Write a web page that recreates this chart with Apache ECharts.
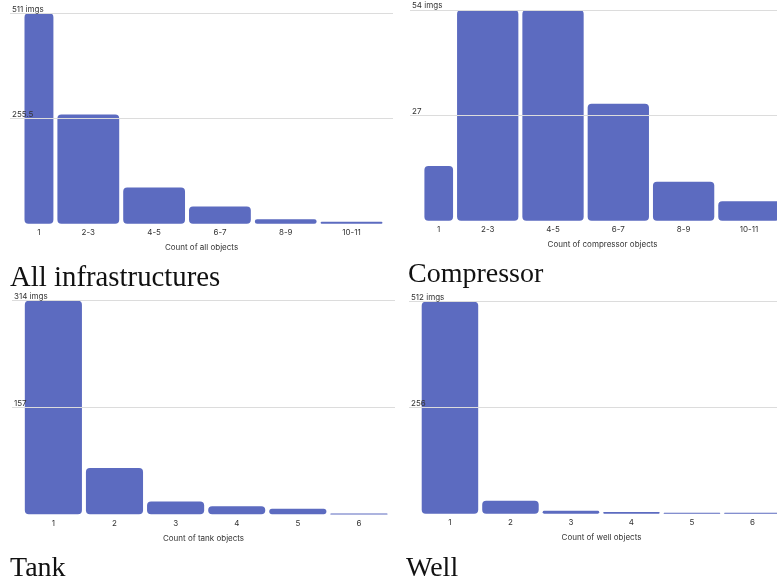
<!DOCTYPE html>
<html>
<head>
<meta charset="utf-8">
<script src="https://cdn.jsdelivr.net/npm/echarts@6/dist/echarts.min.js"></script>
<style>html,body{margin:0;padding:0;background:#fff}#c{width:777px;height:585px}</style>
</head>
<body>
<div id="c"></div>
<script>
// ---- data ----
const allLabels = ['1', '2-3', '4-5', '6-7', '8-9', '10-11'];
const allBinStart = [0.5, 1.5, 3.5, 5.5, 7.5, 9.5];
const allBinEnd = [1.5, 3.5, 5.5, 7.5, 9.5, 11.5];
const allValues = [511, 265, 88, 42, 11, 5];

const compLabels = ['1', '2-3', '4-5', '6-7', '8-9', '10-11'];
const compBinStart = [0.5, 1.5, 3.5, 5.5, 7.5, 9.5];
const compBinEnd = [1.5, 3.5, 5.5, 7.5, 9.5, 11.5];
const compValues = [14, 54, 54, 30, 10, 5];

const tankLabels = ['1', '2', '3', '4', '5', '6'];
const tankBinStart = [0.5, 1.5, 2.5, 3.5, 4.5, 5.5];
const tankBinEnd = [1.5, 2.5, 3.5, 4.5, 5.5, 6.5];
const tankValues = [314, 68, 19, 12, 8, 1];

const wellLabels = ['1', '2', '3', '4', '5', '6'];
const wellBinStart = [0.5, 1.5, 2.5, 3.5, 4.5, 5.5];
const wellBinEnd = [1.5, 2.5, 3.5, 4.5, 5.5, 6.5];
const wellValues = [512, 31, 7, 4, 2, 2];

const yMax = [511, 54, 314, 512];
const axisNames = ['Count of all objects', 'Count of compressor objects', 'Count of tank objects', 'Count of well objects'];
const titles = ['All infrastructures', 'Compressor', 'Tank', 'Well'];

// ---- chart ----
const BAR = '#5c6bc0';
const sans = 'Inter, Roboto, sans-serif';
const panels = [
  {labels: allLabels, s: allBinStart, e: allBinEnd, v: allValues},
  {labels: compLabels, s: compBinStart, e: compBinEnd, v: compValues},
  {labels: tankLabels, s: tankBinStart, e: tankBinEnd, v: tankValues},
  {labels: wellLabels, s: wellBinStart, e: wellBinEnd, v: wellValues}
];
const grids = [
  {left: 10, width: 383, top: 13.3, height: 210.4},
  {left: 410, right: 0, top: 10, height: 210.7},
  {left: 12, width: 383, top: 300.7, height: 213.6},
  {left: 409, right: 0, top: 301.7, height: 212}
];
const xRange = [[0.12, 11.76], [0.12, 11.36], [0.323, 6.59], [0.323, 6.406]];
const namePad = [0, 18, 0, 17];

function renderItem(params, api) {
  const s = api.value(0), e = api.value(1), v = api.value(2);
  const p0 = api.coord([s, v]);
  const p1 = api.coord([e, 0]);
  const w = p1[0] - p0[0] - 4;
  const h = p1[1] - p0[1];
  const r = Math.max(0, Math.min(4, h / 2, w / 2));
  return {
    type: 'rect',
    shape: {x: p0[0] + 2, y: p0[1], width: w, height: Math.max(h, 1), r: r},
    style: {fill: BAR}
  };
}

const option = {
  animation: false,
  backgroundColor: '#fff',
  grid: grids.map(g => Object.assign({containLabel: false}, g)),
  xAxis: panels.map((p, i) => {
    const centers = p.s.map((s, k) => (s + p.e[k]) / 2);
    return {
      type: 'value', gridIndex: i, min: xRange[i][0], max: xRange[i][1],
      axisLine: {show: false}, axisTick: {show: false}, splitLine: {show: false},
      axisLabel: {
        customValues: centers, margin: 5, fontSize: 8, color: '#333', fontFamily: sans,
        formatter: val => {
          const k = centers.findIndex(c => Math.abs(c - val) < 1e-6);
          return k >= 0 ? p.labels[k] : '';
        }
      },
      name: axisNames[i], nameLocation: 'middle', nameGap: 20,
      nameTextStyle: {fontSize: 8, color: '#333', fontFamily: sans, padding: [0, 0, 0, namePad[i]]}
    };
  }),
  yAxis: panels.map((p, i) => ({
    type: 'value', gridIndex: i, min: 0, max: yMax[i], interval: yMax[i] / 2, z: 5,
    axisLine: {show: false}, axisTick: {show: false},
    splitLine: {show: true, showMinLine: false, lineStyle: {color: '#dcdcdc', width: 1}},
    axisLabel: {
      inside: true, margin: 2, verticalAlign: 'bottom', fontSize: 8, color: '#333', fontFamily: sans,
      formatter: val => val === 0 ? '' : (Math.abs(val - yMax[i]) < 1e-9 ? val + ' imgs' : String(val))
    }
  })),
  series: panels.map((p, i) => ({
    type: 'custom', xAxisIndex: i, yAxisIndex: i, clip: false,
    renderItem: renderItem,
    encode: {x: [0, 1], y: 2},
    data: p.v.map((v, k) => [p.s[k], p.e[k], v])
  })),
  graphic: [
    {type: 'text', x: 10, y: 278.5, style: {text: titles[0], font: '28.8px "Liberation Serif", serif', fill: '#111', verticalAlign: 'middle'}},
    {type: 'text', x: 408, y: 274.8, style: {text: titles[1], font: '28px "Liberation Serif", serif', fill: '#111', verticalAlign: 'middle'}},
    {type: 'text', x: 10, y: 568.5, style: {text: titles[2], font: '28px "Liberation Serif", serif', fill: '#111', verticalAlign: 'middle'}},
    {type: 'text', x: 406, y: 568.2, style: {text: titles[3], font: '28px "Liberation Serif", serif', fill: '#111', verticalAlign: 'middle'}}
  ]
};
const chart = echarts.init(document.getElementById('c'), null, {renderer: 'canvas'});
chart.setOption(option);
</script>
</body>
</html>
